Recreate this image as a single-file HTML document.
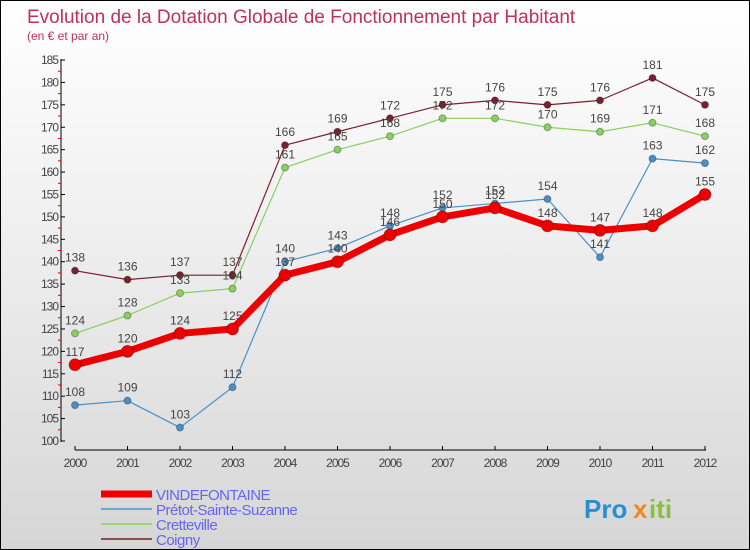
<!DOCTYPE html>
<html><head><meta charset="utf-8"><style>
body{margin:0}
#c{width:748px;height:548px;border:1px solid #000;background:linear-gradient(#ffffff,#f0f0f0 40%,#d6d6d6);position:relative;overflow:hidden;font-family:"Liberation Sans",sans-serif}
</style></head><body>
<div id="c">
<svg id="s" width="748" height="548" style="position:absolute;left:0;top:0"></svg>
</div>
<script>
const years=["2000","2001","2002","2003","2004","2005","2006","2007","2008","2009","2010","2011","2012"];
const vind=[117,120,124,125,137,140,146,150,152,148,147,148,155];
const pretot=[108,109,103,112,140,143,148,152,153,154,141,163,162];
const crette=[124,128,133,134,161,165,168,172,172,170,169,171,168];
const coigny=[138,136,137,137,166,169,172,175,176,175,176,181,175];
const yTicks=[100,105,110,115,120,125,130,135,140,145,150,155,160,165,170,175,180,185];
const NS="http://www.w3.org/2000/svg";
const s=document.getElementById('s');
function X(i){return 74+i*52.5;}
function Y(v){return 440-(v-100)*4.482;}
function el(t,a,txt){const e=document.createElementNS(NS,t);for(const k in a)e.setAttribute(k,a[k]);if(txt!==undefined)e.textContent=txt;s.appendChild(e);return e;}
let t=el('text',{x:26,y:22,fill:'#c0305a','font-size':19},'Evolution de la Dotation Globale de Fonctionnement par Habitant');

t=el('text',{x:26,y:39,fill:'#c0305a','font-size':12},'(en € et par an)');

let a=el('line',{x1:60,y1:58,x2:60,y2:441,stroke:'#000'});

a=el('line',{x1:74,y1:449,x2:705,y2:449,stroke:'#000'});

yTicks.forEach(v=>{const y=Y(v);
 el('line',{x1:60,y1:y,x2:64,y2:y,stroke:'#000'});
 if(v<185)el('line',{x1:57,y1:Y(v+2.5),x2:60,y2:Y(v+2.5),stroke:'#e00'});
 const l=el('text',{x:57,y:y+4,'text-anchor':'end','font-size':12,fill:'#444','letter-spacing':'-1'},v);
 });
years.forEach((yr,i)=>{el('line',{x1:X(i),y1:445,x2:X(i),y2:449,stroke:'#000'});
 const l=el('text',{x:X(i),y:466,'text-anchor':'middle','font-size':12,fill:'#444','letter-spacing':'-1'},yr);
 });
function series(d,col,w,r,name){
 const p=el('polyline',{points:d.map((v,i)=>X(i)+','+Y(v)).join(' '),fill:'none',stroke:col,'stroke-width':w,'stroke-linejoin':'round'});
 
 d.forEach((v,i)=>{const c=el('circle',{cx:X(i),cy:Y(v),r:r,fill:col,stroke:'rgba(0,0,0,0.3)'});
  
  const l=el('text',{x:X(i),y:Y(v)-9,'text-anchor':'middle','font-size':12,fill:'#444'},v);
  });
}
series(coigny,'#7a2030',1.2,3.5,'coigny');
series(crette,'#88d060',1.2,3.5,'cretteville');
series(pretot,'#4a90c8',1.2,3.5,'pretot');
series(vind,'#ee0000',7,6,'vindefontaine');
const leg=[["VINDEFONTAINE","#ee0000",7],["Prétot-Sainte-Suzanne","#6aa8d0",2],["Cretteville","#99d870",2],["Coigny","#8a5050",2]];
leg.forEach((L,i)=>{const y=493+i*15;
 const ln=el('line',{x1:100,y1:y,x2:151,y2:y,stroke:L[1],'stroke-width':L[2]});
 
 const tx=el('text',{x:155,y:y+6,'font-size':15,fill:'#6666ee','letter-spacing':'-0.5'},L[0]);
 });
const lg=el('text',{x:583,y:517,'font-size':26,'font-weight':'bold',fill:'#2a8fd0'},'Pro');

el('text',{x:632,y:517,'font-size':26,'font-weight':'bold',fill:'#f08a20'},'x');
el('text',{x:648,y:517,'font-size':26,'font-weight':'bold',fill:'#88c040'},'iti');
</script>
</body></html>
